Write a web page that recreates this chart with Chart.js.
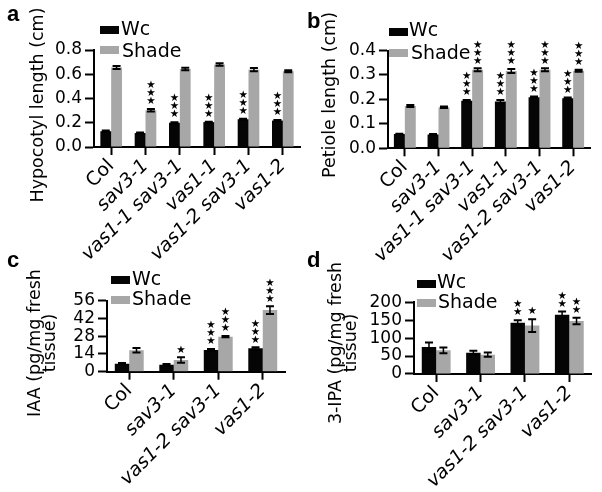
<!DOCTYPE html>
<html>
<head>
<meta charset="utf-8">
<script src="https://cdn.jsdelivr.net/npm/chart.js@4.4.1/dist/chart.umd.min.js"></script>
<style>
  body { margin: 0; background: #fff; }
  #fig { position: relative; width: 602px; height: 492px; overflow: hidden; font-family: "DejaVu Sans"; color: #000; }
  canvas { position: absolute; }
  .t { position: absolute; white-space: nowrap; }
  .letter { font: bold 22px "Liberation Sans"; line-height: 22px; }
  .leg { font-size: 19px; line-height: 19px; }
  .box { position: absolute; width: 19px; height: 8px; }
  .ytitle { position: absolute; width: 240px; text-align: center; font-size: 17.5px; white-space: nowrap; transform: rotate(-90deg); }
</style>
</head>
<body>
<div id="fig">
  <canvas id="pa" width="301" height="268" style="left:0;top:0"></canvas>
  <canvas id="pb" width="301" height="268" style="left:301px;top:0"></canvas>
  <canvas id="pc" width="301" height="240" style="left:0;top:252px"></canvas>
  <canvas id="pd" width="301" height="240" style="left:301px;top:252px"></canvas>

  <div class="t letter" style="left:7px;top:3px">a</div>
  <div class="t letter" style="left:307px;top:10px">b</div>
  <div class="t letter" style="left:7px;top:249px">c</div>
  <div class="t letter" style="left:307px;top:249px">d</div>

  <div class="ytitle" style="left:-83px;top:96px;height:18px;line-height:18px">Hypocotyl length (cm)</div>
  <div class="ytitle" style="left:209px;top:86px;height:18px;line-height:18px">Petiole length (cm)</div>
  <div class="ytitle" style="left:-78.5px;top:328px;height:30px;line-height:15px">IAA (pg/mg fresh<br>tissue)</div>
  <div class="ytitle" style="left:223px;top:328px;height:30px;line-height:15px">3-IPA (pg/mg fresh<br>tissue)</div>

  <div class="box" style="left:100px;top:25.5px;background:#050505"></div>
  <div class="box" style="left:100px;top:45.5px;background:#a7a7a7"></div>
  <div class="t leg" style="left:121px;top:19px">Wc</div>
  <div class="t leg" style="left:122px;top:40.5px">Shade</div>

  <div class="box" style="left:389px;top:27.5px;background:#050505"></div>
  <div class="box" style="left:389px;top:49px;background:#a7a7a7"></div>
  <div class="t leg" style="left:409px;top:20px">Wc</div>
  <div class="t leg" style="left:411px;top:42.5px">Shade</div>

  <div class="box" style="left:111px;top:276px;background:#050505"></div>
  <div class="box" style="left:111px;top:296px;background:#a7a7a7"></div>
  <div class="t leg" style="left:132px;top:269px">Wc</div>
  <div class="t leg" style="left:132px;top:289px">Shade</div>

  <div class="box" style="left:417px;top:280px;background:#050505"></div>
  <div class="box" style="left:417px;top:298.5px;background:#a7a7a7"></div>
  <div class="t leg" style="left:437px;top:272px">Wc</div>
  <div class="t leg" style="left:438px;top:292px">Shade</div>
</div>

<script>
// panels a and b
const lines6 = ['Col', 'sav3-1', 'vas1-1 sav3-1', 'vas1-1', 'vas1-2 sav3-1', 'vas1-2'];
// panels c and d
const lines4 = ['Col', 'sav3-1', 'vas1-2 sav3-1', 'vas1-2'];

// a: hypocotyl length (cm)
const hypWc         = [0.13, 0.115, 0.20, 0.205, 0.229, 0.218];
const hypWcErr      = [0.006, 0.004, 0.005, 0.004, 0.004, 0.004];
const hypWcStars    = [0, 0, 3, 3, 3, 3];
const hypShade      = [0.656, 0.303, 0.644, 0.68, 0.638, 0.625];
const hypShadeErr   = [0.012, 0.010, 0.010, 0.010, 0.013, 0.008];
const hypShadeStars = [0, 3, 0, 0, 0, 0];

// b: petiole length (cm)
const petWc         = [0.058, 0.056, 0.194, 0.191, 0.209, 0.205];
const petWcErr      = [0.002, 0.002, 0.004, 0.007, 0.003, 0.003];
const petWcStars    = [0, 0, 3, 3, 3, 3];
const petShade      = [0.173, 0.168, 0.321, 0.316, 0.321, 0.317];
const petShadeErr   = [0.004, 0.003, 0.006, 0.008, 0.006, 0.004];
const petShadeStars = [0, 0, 3, 3, 3, 3];

// c: IAA (pg/mg fresh tissue)
const iaaWc         = [6.3, 5.5, 17.1, 18.4];
const iaaWcErr      = [0.6, 0.5, 0.8, 0.8];
const iaaWcStars    = [0, 0, 3, 3];
const iaaShade      = [16.9, 9.2, 27.6, 48.6];
const iaaShadeErr   = [1.8, 2.1, 0.5, 3.0];
const iaaShadeStars = [0, 1, 3, 3];

// d: 3-IPA (pg/mg fresh tissue)
const ipaWc         = [75, 59, 143, 165];
const ipaWcErr      = [13, 6, 7, 9];
const ipaWcStars    = [0, 0, 2, 2];
const ipaShade      = [66, 54, 135, 148];
const ipaShadeErr   = [8, 6, 18, 9];
const ipaShadeStars = [0, 0, 1, 2];

const BLACK = '#050505';
const GRAY  = '#a7a7a7';

// error bars (mean +/- err) and significance stars, placed through the y scale
const errStars = {
  id: 'errStars',
  afterDatasetsDraw(chart) {
    const ctx = chart.ctx;
    const y = chart.scales.y;
    chart.data.datasets.forEach((ds, di) => {
      chart.getDatasetMeta(di).data.forEach((bar, i) => {
        const v = ds.data[i], e = ds.err[i];
        const top = y.getPixelForValue(v + e);
        const bot = y.getPixelForValue(v - e);
        ctx.save();
        ctx.strokeStyle = '#000';
        ctx.lineWidth = 1.5;
        ctx.beginPath();
        ctx.moveTo(bar.x, top); ctx.lineTo(bar.x, bot);
        ctx.stroke();
        ctx.lineWidth = 2;
        ctx.beginPath();
        ctx.moveTo(bar.x - 4, top); ctx.lineTo(bar.x + 4, top);
        ctx.moveTo(bar.x - 4, bot); ctx.lineTo(bar.x + 4, bot);
        ctx.stroke();
        ctx.fillStyle = '#000';
        ctx.font = '10.5px "DejaVu Sans"';
        ctx.textAlign = 'center';
        ctx.textBaseline = 'middle';
        for (let k = 0; k < ds.stars[i]; k++) {
          ctx.fillText('\u2605', bar.x, top - 7.5 - k * 8);
        }
        ctx.restore();
      });
    });
  }
};

function panel(id, labels, wc, wcErr, wcStars, shade, shadeErr, shadeStars, yMax, yStep, digits, box) {
  new Chart(document.getElementById(id), {
    type: 'bar',
    data: {
      labels: labels,
      datasets: [
        { label: 'Wc', data: wc, err: wcErr, stars: wcStars, backgroundColor: BLACK },
        { label: 'Shade', data: shade, err: shadeErr, stars: shadeStars, backgroundColor: GRAY }
      ]
    },
    options: {
      responsive: false,
      animation: false,
      layout: { padding: { top: box.top, right: box.right, left: 0, bottom: 0 } },
      datasets: { bar: { categoryPercentage: box.cat, barPercentage: 1 } },
      plugins: { legend: { display: false }, tooltip: { enabled: false } },
      scales: {
        x: {
          offset: true,
          grid: { display: true, offset: false, drawOnChartArea: false, tickLength: 8, tickWidth: 2, tickColor: '#000' },
          border: { color: '#000', width: 2 },
          ticks: {
            color: '#000', autoSkip: false, minRotation: 45, maxRotation: 45, padding: 0,
            font: c => ({ family: '"DejaVu Sans"', size: 19, style: labels[c.index] === 'Col' ? 'normal' : 'italic' })
          },
          afterFit: s => { s.height = box.xh; }
        },
        y: {
          min: 0, max: yMax,
          grid: { display: true, drawOnChartArea: false, tickLength: 9, tickWidth: 2, tickColor: '#000' },
          border: { color: '#000', width: 2 },
          ticks: {
            stepSize: yStep, color: '#000', padding: 3, autoSkip: false,
            font: { family: '"DejaVu Sans"', size: 17, lineHeight: 1 },
            callback: v => v.toFixed(digits)
          },
          afterFit: s => { s.width = box.yw; }
        }
      }
    },
    plugins: [errStars]
  });
}

panel('pa', lines6, hypWc, hypWcErr, hypWcStars, hypShade, hypShadeErr, hypShadeStars, 0.8, 0.2, 1,
      { yw: 94, top: 50, right: 1, xh: 121, cat: 0.63 });
panel('pb', lines6, petWc, petWcErr, petWcStars, petShade, petShadeErr, petShadeStars, 0.4, 0.1, 1,
      { yw: 87, top: 50.5, right: 12, xh: 119.7, cat: 0.65 });
panel('pc', lines4, iaaWc, iaaWcErr, iaaWcStars, iaaShade, iaaShadeErr, iaaShadeStars, 56, 14, 0,
      { yw: 107, top: 48.7, right: 16, xh: 120.3, cat: 0.65 });
panel('pd', lines4, ipaWc, ipaWcErr, ipaWcStars, ipaShade, ipaShadeErr, ipaShadeStars, 200, 50, 0,
      { yw: 113, top: 50.3, right: 10.5, xh: 118, cat: 0.65 });
</script>
</body>
</html>
